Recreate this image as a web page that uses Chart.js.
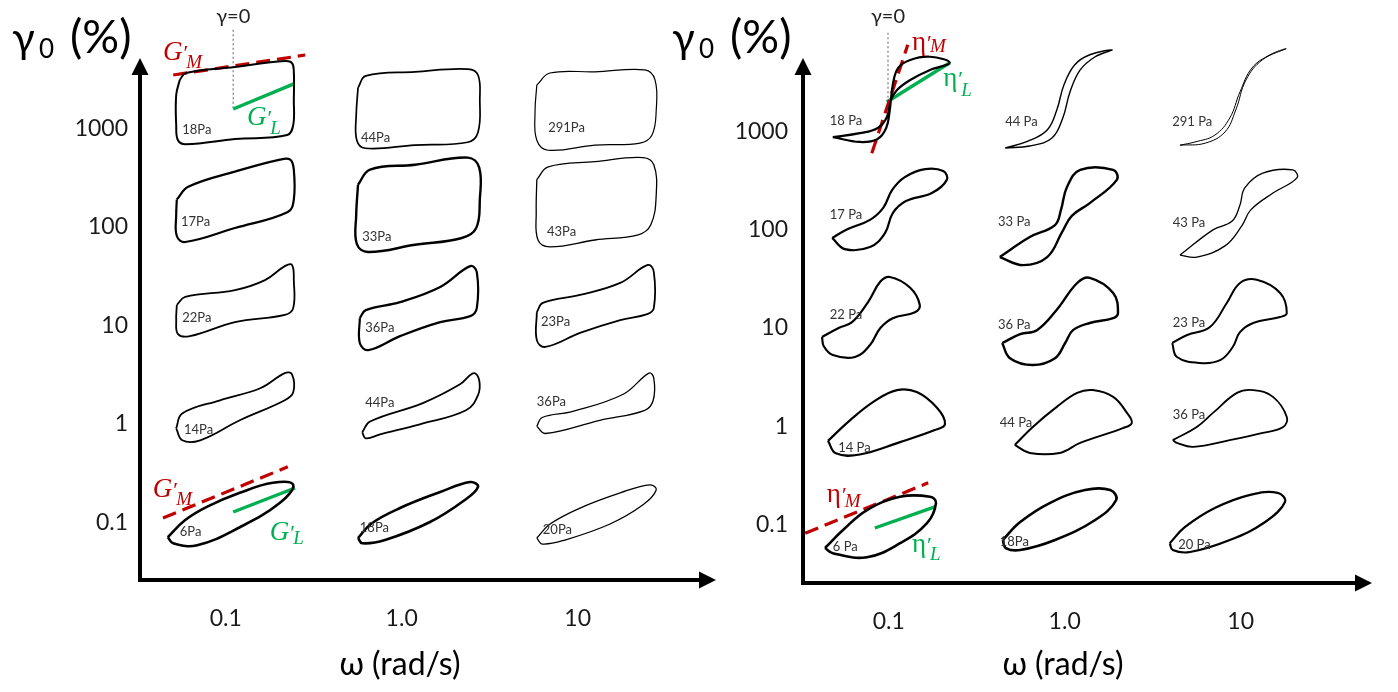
<!DOCTYPE html>
<html>
<head>
<meta charset="utf-8">
<script src="https://cdn.jsdelivr.net/npm/chart.js@4.4.1/dist/chart.umd.min.js"></script>
<style>
  html, body { margin: 0; padding: 0; background: #fff; }
  #wrap { position: relative; width: 1398px; height: 692px; overflow: hidden; }
  #wrap canvas { position: absolute; left: 0; top: 0; }
</style>
</head>
<body>
<div id="wrap">
  <canvas id="elastic" width="1398" height="692"></canvas>
  <canvas id="viscous" width="1398" height="692"></canvas>
</div>
<script>
// ============================================================
// PIPKIN DATA  (rows: gamma0 = 0.1 .. 1000 %, cols: omega = 0.1 .. 10 rad/s)
// ============================================================
const omegaLabels = ['0.1', '1.0', '10'];
const gammaLabels = ['0.1', '1', '10', '100', '1000'];

const elasticStress = [
  ['6Pa', '18Pa', '20Pa'],
  ['14Pa', '44Pa', '36Pa'],
  ['22Pa', '36Pa', '23Pa'],
  ['17Pa', '33Pa', '43Pa'],
  ['18Pa', '44Pa', '291Pa']
];
const viscousStress = [
  ['6 Pa', '18Pa', '20 Pa'],
  ['14 Pa', '44 Pa', '36 Pa'],
  ['22 Pa', '36 Pa', '23 Pa'],
  ['17 Pa', '33 Pa', '43 Pa'],
  ['18 Pa', '44 Pa', '291 Pa']
];

// elastic Lissajous loops: [strain / strain amplitude, stress / stress amplitude]
const elastic01 = [
  [[-1.12,-0.63],[-0.83,-0.2],[-0.47,0.13],[0.08,0.48],[0.63,0.73],[0.97,0.68],[0.75,0.23],[0.08,-0.38],[-0.63,-0.83],[-1.03,-0.78]],
  [[-0.95,-0.65],[-0.72,-0.28],[-0.25,0.1],[0.42,0.5],[0.92,0.75],[1.05,0.63],[0.83,0.3],[0.25,-0.25],[-0.5,-0.7],[-0.88,-0.78]],
  [[-0.97,-0.65],[-0.75,-0.3],[-0.25,0.1],[0.42,0.48],[0.92,0.68],[1.02,0.55],[0.8,0.18],[0.25,-0.3],[-0.5,-0.7],[-0.88,-0.8]]
];
const elastic1 = [
  [[-0.98,-0.45],[-0.88,-0.08],[-0.25,0.25],[0.42,0.55],[0.83,0.93],[0.95,0.9],[0.97,0.45],[0.83,0.25],[0.08,-0.25],[-0.58,-0.75],[-0.88,-0.75]],
  [[-0.88,-0.55],[-0.75,-0.28],[0.13,0.18],[0.75,0.65],[0.98,0.93],[1.07,0.75],[1.05,0.38],[0.85,0],[0.08,-0.35],[-0.58,-0.6],[-0.82,-0.7]],
  [[-0.97,-0.4],[-0.88,-0.18],[-0.37,-0.03],[0.47,0.4],[0.9,0.93],[0.98,0.8],[0.97,0.25],[0.83,0],[0.08,-0.25],[-0.83,-0.58]]
];
const elastic10 = [
  [[-0.97,0.09],[-0.83,0.29],[0,0.46],[0.5,0.71],[0.83,1.06],[0.95,1.09],[0.98,0.71],[0.97,0.01],[0.83,-0.16],[0,-0.34],[-0.75,-0.69],[-0.95,-0.64],[-0.98,-0.29]],
  [[-0.92,-0.24],[-0.82,-0.04],[-0.25,0.16],[0.42,0.54],[0.92,1.06],[1.03,0.91],[1.03,0.01],[0.92,-0.19],[0.42,-0.34],[-0.25,-0.69],[-0.78,-1.04],[-0.92,-0.86]],
  [[-0.97,-0.09],[-0.87,0.14],[-0.25,0.34],[0.42,0.64],[0.88,1.09],[0.98,0.91],[0.98,0.01],[0.87,-0.14],[0.42,-0.29],[-0.25,-0.61],[-0.83,-0.96],[-0.97,-0.79]]
];
const elastic100 = [
  [[-0.97,0.18],[-0.78,0.5],[0,0.88],[0.75,1.18],[0.92,1.18],[0.98,0.93],[0.98,0.18],[0.88,-0.13],[0,-0.53],[-0.83,-0.88],[-0.97,-0.73],[-0.98,-0.2]],
  [[-0.95,0.55],[-0.75,0.93],[0,1.05],[0.88,1.23],[1.07,0.98],[1.08,0.18],[1.02,-0.53],[0.78,-0.78],[0,-0.95],[-0.78,-1.13],[-0.97,-0.93],[-0.98,-0.2]],
  [[-0.97,0.68],[-0.78,1.0],[0,1.13],[0.8,1.23],[0.98,1.05],[1.02,0.3],[0.93,-0.45],[0.72,-0.7],[0,-0.83],[-0.75,-1.0],[-0.95,-0.83],[-0.98,-0.13]]
];
const elastic1000 = [
  [[-0.92,0.63],[-0.82,0.8],[0,0.95],[0.83,1.1],[0.95,1.05],[0.98,0.83],[0.98,0.13],[0.97,-0.5],[0.87,-0.75],[0,-0.85],[-0.82,-0.98],[-0.95,-0.88],[-0.98,-0.5],[-0.98,0.25]],
  [[-0.95,0.43],[-0.82,0.73],[0,0.83],[0.88,0.9],[1.05,0.75],[1.08,0.13],[1.05,-0.68],[0.88,-0.93],[0,-1.0],[-0.83,-1.08],[-0.97,-0.88],[-0.98,-0.25]],
  [[-0.97,0.5],[-0.75,0.8],[0,0.83],[0.83,0.88],[1.0,0.63],[1.02,-0.13],[0.95,-0.75],[0.75,-0.95],[0,-1.0],[-0.78,-1.13],[-0.97,-0.88],[-1.0,-0.18]]
];

// viscous Lissajous loops: [strain rate / rate amplitude, stress / stress amplitude]
const viscous01 = [
  [[-1.05,-0.65],[-0.75,-0.2],[-0.35,0.3],[0.2,0.63],[0.7,0.63],[0.8,0.48],[0.65,-0.03],[0.2,-0.53],[-0.35,-0.88],[-0.92,-0.78]],
  [[-0.92,-0.45],[-0.63,0],[-0.13,0.48],[0.45,0.8],[0.87,0.8],[0.97,0.55],[0.62,0.05],[-0.05,-0.45],[-0.63,-0.7],[-0.87,-0.65]],
  [[-0.97,-0.53],[-0.72,-0.13],[-0.22,0.35],[0.37,0.68],[0.83,0.73],[0.95,0.5],[0.62,0],[0.03,-0.45],[-0.63,-0.75],[-0.92,-0.7]]
];
const viscous1 = [
  [[-1.0,-0.61],[-0.63,-0.09],[-0.22,0.39],[0.15,0.66],[0.48,0.61],[0.82,0.21],[0.95,-0.19],[0.78,-0.34],[0.2,-0.64],[-0.47,-0.95],[-0.87,-0.92]],
  [[-0.72,-0.71],[-0.42,-0.26],[-0.02,0.24],[0.32,0.59],[0.58,0.66],[0.92,0.49],[1.15,0.09],[1.23,-0.16],[1.08,-0.29],[0.37,-0.66],[0.03,-0.91],[-0.47,-0.91]],
  [[-0.92,-0.59],[-0.52,-0.26],[-0.25,0.09],[0.15,0.59],[0.42,0.66],[0.75,0.49],[0.98,-0.01],[0.92,-0.26],[0.58,-0.41],[0.03,-0.59],[-0.58,-0.76],[-0.85,-0.66]]
];
const viscous10 = [
  [[-1.1,-0.65],[-0.83,-0.43],[-0.6,-0.28],[-0.33,0.23],[-0.13,0.73],[0.03,0.85],[0.37,0.58],[0.53,0.15],[0.45,-0.03],[0.08,-0.18],[-0.13,-0.43],[-0.3,-0.85],[-0.55,-1.15],[-0.92,-1.1],[-1.07,-0.88]],
  [[-0.93,-0.8],[-0.63,-0.58],[-0.35,-0.48],[-0.02,0.03],[0.32,0.7],[0.53,0.83],[0.92,0.45],[1.0,-0.05],[0.92,-0.18],[0.53,-0.3],[0.25,-0.48],[0.12,-0.8],[-0.05,-1.18],[-0.42,-1.35],[-0.8,-1.18]],
  [[-0.93,-0.8],[-0.68,-0.6],[-0.3,-0.4],[-0.02,0.2],[0.2,0.7],[0.48,0.78],[0.87,0.45],[0.98,-0.05],[0.87,-0.15],[0.42,-0.3],[0.2,-0.53],[0.08,-0.9],[-0.13,-1.23],[-0.47,-1.3],[-0.85,-1.15]]
];
const viscous100 = [
  [[-0.93,-0.81],[-0.67,-0.59],[-0.3,-0.36],[-0.08,-0.06],[0.07,0.39],[0.28,0.71],[0.62,0.91],[0.92,0.86],[0.98,0.64],[0.73,0.31],[0.3,0.11],[0.08,-0.19],[-0.05,-0.69],[-0.3,-1.04],[-0.72,-1.09]],
  [[-0.97,-1.29],[-0.47,-0.79],[-0.05,-0.49],[0.05,-0.11],[0.15,0.46],[0.37,0.89],[0.92,0.89],[0.98,0.64],[0.53,0.06],[0.23,-0.26],[0.07,-0.66],[-0.18,-1.29],[-0.58,-1.49]],
  [[-0.8,-1.24],[-0.25,-0.61],[0.07,-0.39],[0.2,0.01],[0.28,0.44],[0.58,0.81],[1.08,0.89],[1.15,0.69],[0.75,0.31],[0.38,-0.11],[0.23,-0.51],[-0.05,-1.01],[-0.52,-1.29]]
];
const viscous1000 = [
  [[-0.92,-0.93],[-0.47,-1.05],[-0.18,-0.98],[-0.03,-0.7],[0.03,-0.25],[0.08,0.38],[0.17,0.8],[0.37,1.0],[0.7,1.08],[1.03,0.93],[0.7,0.75],[0.37,0.5],[0.15,0.25],[0.05,0],[-0.02,-0.43],[-0.17,-0.7],[-0.47,-0.83]],
  [[-0.88,-1.2],[-0.47,-1.15],[-0.1,-0.95],[0.08,-0.45],[0.2,0.2],[0.37,0.75],[0.62,1.08],[0.9,1.25],[0.53,1.13],[0.28,0.88],[0.1,0.38],[-0.02,-0.25],[-0.18,-0.75],[-0.5,-1.03]],
  [[-0.8,-1.13],[-0.38,-1.08],[-0.05,-0.8],[0.13,-0.25],[0.3,0.5],[0.57,1.0],[0.97,1.28],[0.7,1.13],[0.4,0.8],[0.2,0.2],[0.03,-0.45],[-0.22,-0.88],[-0.55,-1.05]]
];

// tangent moduli / viscosities drawn on the corner loops: [cell row, cell col, start, end]
const elasticTangentM = [[4, 0, [-1.03, 0.75], [1.17, 1.25]], [0, 0, [-1.2, -0.15], [0.88, 1.13]]];
const elasticTangentL = [[4, 0, [-0.03, -0.1], [0.98, 0.53]], [0, 0, [-0.03, 0], [1.0, 0.6]]];
const viscousTangentM = [[4, 0, [-0.27, -1.33], [0.33, 1.38]], [0, 0, [-1.38, -0.28], [0.67, 0.98]]];
const viscousTangentL = [[4, 0, [-0.02, -0.05], [1.03, 0.93]], [0, 0, [-0.22, -0.15], [0.78, 0.38]]];
const elasticZeroLine = [[-0.03, 1.88], [-0.03, -0.08]];
const viscousZeroLine = [[0, 1.68], [0, 0]];

// ============================================================
// LAYOUT & STYLE
// ============================================================
const RED = '#c00000', GREEN = '#00b050';
const SANS = 'Lato, "Open Sans", sans-serif';
const SERIF = '"Liberation Serif", "DejaVu Serif", serif';

const elasticTagAt = [
  [[-0.92,-0.5],[-0.92,-0.4],[-0.87,-0.45]],
  [[-0.85,-0.5],[-0.83,0.18],[-0.97,0.2]],
  [[-0.88,-0.24],[-0.83,-0.49],[-0.9,-0.34]],
  [[-0.9,-0.38],[-0.88,-0.75],[-0.8,-0.63]],
  [[-0.88,-0.63],[-0.9,-0.83],[-0.78,-0.58]]
];
const viscousTagAt = [
  [[-0.92,-0.63],[-0.97,-0.5],[-0.83,-0.58]],
  [[-0.83,-0.78],[-0.97,-0.16],[-0.92,0.04]],
  [[-0.97,-0.1],[-1.0,-0.35],[-0.92,-0.3]],
  [[-0.97,-0.24],[-1.0,-0.41],[-0.92,-0.44]],
  [[-0.97,-0.53],[-0.88,-0.55],[-0.93,-0.55]]
];
const elasticWidth = [[2.6,2.6,1.3],[1.8,1.8,1.3],[1.8,2.2,1.8],[2.2,2.4,1.3],[2.0,1.7,1.2]];
const viscousWidth = [[2.6,2.6,2.2],[2.2,2.0,1.8],[2.2,2.4,2.0],[2.2,2.4,1.3],[2.2,1.4,1.0]];

const elasticSymbols = [
  { r: 4, c: 0, at: [-1.2, 1.125], base: 'G', sub: 'M', drop: 8, color: RED, italic: true },
  { r: 4, c: 0, at: [0.2, -0.5], base: 'G', sub: 'L', drop: 9, color: GREEN, italic: true },
  { r: 0, c: 0, at: [-1.37, 0.375], base: 'G', sub: 'M', drop: 8, color: RED, italic: true },
  { r: 0, c: 0, at: [0.58, -0.7], base: 'G', sub: 'L', drop: 4, color: GREEN, italic: true }
];
const viscousSymbols = [
  { r: 4, c: 0, at: [0.4, 1.25], base: 'η', sub: 'M', drop: 2, color: RED, italic: false },
  { r: 4, c: 0, at: [0.92, 0.35], base: 'η', sub: 'L', drop: 10, color: GREEN, italic: false },
  { r: 0, c: 0, at: [-1.02, 0.5], base: 'η', sub: 'M', drop: 5, color: RED, italic: false },
  { r: 0, c: 0, at: [0.4, -0.75], base: 'η', sub: 'L', drop: 8, color: GREEN, italic: false }
];

// ============================================================
// HELPERS
// ============================================================
function loopSets(rows, widths, sx, sy) {
  const sets = [];
  rows.forEach((row, r) => row.forEach((loop, c) => {
    sets.push({
      data: loop.concat([loop[0]]).map(p => ({ x: c + p[0] * sx, y: r + p[1] * sy })),
      showLine: true, borderColor: '#000', borderWidth: widths[r][c], tension: 0.4,
      pointRadius: 0, clip: false, borderJoinStyle: 'round'
    });
  }));
  return sets;
}

function tangentSets(list, color, dash, sx, sy) {
  return list.map(([r, c, a, b]) => ({
    data: [a, b].map(p => ({ x: c + p[0] * sx, y: r + p[1] * sy })),
    showLine: true, borderColor: color, borderWidth: dash.length ? 3.2 : 3.4, borderDash: dash,
    tension: 0, pointRadius: 0, clip: false
  }));
}

function zeroSet(line, sx, sy) {
  return {
    data: line.map(p => ({ x: p[0] * sx, y: 4 + p[1] * sy })),
    showLine: true, borderColor: '#8c8c8c', borderWidth: 1.4, borderDash: [2, 2.5],
    tension: 0, pointRadius: 0, clip: false
  };
}

const axesPlugin = (tipX, tipY) => ({
  id: 'pipkinAxes',
  afterDraw(chart) {
    const { ctx, chartArea: a } = chart;
    ctx.save();
    ctx.strokeStyle = '#000'; ctx.fillStyle = '#000'; ctx.lineWidth = 4;
    ctx.beginPath();
    ctx.moveTo(a.left, a.bottom + 2); ctx.lineTo(a.left, tipY + 12);
    ctx.moveTo(a.left - 2, a.bottom); ctx.lineTo(tipX - 12, a.bottom);
    ctx.stroke();
    ctx.beginPath();
    ctx.moveTo(a.left, tipY); ctx.lineTo(a.left - 8.5, tipY + 17); ctx.lineTo(a.left + 8.5, tipY + 17); ctx.closePath();
    ctx.moveTo(tipX, a.bottom); ctx.lineTo(tipX - 17, a.bottom - 8.5); ctx.lineTo(tipX - 17, a.bottom + 8.5); ctx.closePath();
    ctx.fill();
    ctx.restore();
  }
});

const textPlugin = spec => ({
  id: 'pipkinText',
  afterDatasetsDraw(chart) {
    const { ctx, chartArea: a } = chart;
    const xs = chart.scales.x, ys = chart.scales.y;
    const px = (r, c, p) => [xs.getPixelForValue(c + p[0] * spec.sx), ys.getPixelForValue(r + p[1] * spec.sy)];
    ctx.save();

    ctx.font = '13px ' + SANS; ctx.fillStyle = '#333';
    ctx.textAlign = 'left'; ctx.textBaseline = 'middle';
    spec.stress.forEach((row, r) => row.forEach((t, c) => {
      const [x, y] = px(r, c, spec.tagAt[r][c]);
      ctx.fillText(t, x, y);
    }));

    ctx.font = '20px ' + SANS; ctx.fillStyle = '#222'; ctx.textAlign = 'center';
    const [zx, zy] = px(4, 0, spec.zeroTag);
    ctx.fillText('γ=0', zx, zy);

    ctx.textAlign = 'left'; ctx.textBaseline = 'alphabetic';
    spec.symbols.forEach(s => {
      const [x, y] = px(s.r, s.c, s.at);
      ctx.fillStyle = s.color;
      ctx.font = (s.italic ? 'italic ' : '') + '27px ' + SERIF;
      ctx.fillText(s.base, x, y);
      const w = ctx.measureText(s.base).width;
      ctx.font = '22px ' + SERIF;
      ctx.fillText('′', x + w + 1, y);
      const pw = ctx.measureText('′').width;
      ctx.font = 'italic 19px ' + SERIF;
      ctx.fillText(s.sub, x + w + pw * 0.8, y + s.drop);
    });

    // horizontal y-axis title
    const tx = a.left + spec.titleDx, ty = 53;
    ctx.fillStyle = '#000';
    ctx.font = '42px ' + SANS; ctx.fillText('γ', tx, ty);
    ctx.font = '26px ' + SANS; ctx.fillText('0', tx + 27, ty + 5);
    ctx.font = '46px ' + SANS; ctx.fillText('(%)', tx + 58, ty);
    ctx.restore();
  }
});

function pipkin(id, cfg) {
  const tickFont = { family: SANS, size: 23 };
  return new Chart(document.getElementById(id), {
    type: 'scatter',
    data: {
      datasets: [
        ...loopSets(cfg.rows, cfg.widths, cfg.sx, cfg.sy),
        zeroSet(cfg.zero, cfg.sx, cfg.sy),
        ...tangentSets(cfg.tanM, RED, [14, 7], cfg.sx, cfg.sy),
        ...tangentSets(cfg.tanL, GREEN, [], cfg.sx, cfg.sy)
      ]
    },
    options: {
      responsive: false, animation: false, devicePixelRatio: 1, events: [],
      layout: { padding: cfg.pad },
      plugins: { legend: { display: false }, tooltip: { enabled: false } },
      scales: {
        x: { type: 'linear', display: false, min: cfg.x[0], max: cfg.x[1] },
        y: { type: 'linear', display: false, min: cfg.y[0], max: cfg.y[1] },
        xt: {
          type: 'linear', axis: 'x', position: 'bottom', min: -0.487, max: 2.468,
          grid: { display: false, drawTicks: false }, border: { display: false },
          afterBuildTicks: s => { s.ticks = omegaLabels.map((_, i) => ({ value: i })); },
          afterFit: s => { s.height = cfg.xtHeight; },
          ticks: { callback: v => omegaLabels[v], font: tickFont, color: '#1a1a1a', padding: 25, maxRotation: 0 },
          title: { display: true, text: 'ω (rad/s)', font: { family: SANS, size: 32 }, color: '#000', padding: { top: 0, bottom: 8 } }
        },
        yt: {
          type: 'linear', axis: 'y', position: 'left', min: cfg.yt[0], max: cfg.yt[1],
          grid: { display: false, drawTicks: false }, border: { display: false },
          afterBuildTicks: s => { s.ticks = gammaLabels.map((_, i) => ({ value: i })); },
          afterFit: s => { s.width = 140; },
          ticks: { callback: v => gammaLabels[v], font: tickFont, color: '#1a1a1a', padding: cfg.ytPad }
        }
      }
    },
    plugins: [
      textPlugin({ sx: cfg.sx, sy: cfg.sy, stress: cfg.stress, tagAt: cfg.tagAt, zeroTag: cfg.zeroTag, symbols: cfg.symbols, titleDx: cfg.titleDx }),
      axesPlugin(cfg.tip[0], cfg.tip[1])
    ]
  });
}

// elastic (stress vs strain) on the left, viscous (stress vs strain rate) on the right
pipkin('elastic', {
  rows: [elastic01, elastic1, elastic10, elastic100, elastic1000],
  stress: elasticStress, tagAt: elasticTagAt, widths: elasticWidth,
  tanM: elasticTangentM, tanL: elasticTangentL, zero: elasticZeroLine, zeroTag: [-0.03, 2.2],
  symbols: elasticSymbols,
  sx: 60 / 180, sy: 40 / 101.75,
  pad: { left: 0, top: 68, right: 738, bottom: 0 },
  x: [-0.5278, 2.361], y: [-0.668, 4.364], yt: [-0.582, 4.611],
  xtHeight: 112, ytPad: 12, titleDx: -128, tip: [716, 58]
});

pipkin('viscous', {
  rows: [viscous01, viscous1, viscous10, viscous100, viscous1000],
  stress: viscousStress, tagAt: viscousTagAt, widths: viscousWidth,
  tanM: viscousTangentM, tanL: viscousTangentL, zero: viscousZeroLine, zeroTag: [0, 2.08],
  symbols: viscousSymbols,
  sx: 60 / 170, sy: 40 / 105.5,
  pad: { left: 663, top: 70, right: 75, bottom: 0 },
  x: [-0.5, 2.559], y: [-0.578, 4.284], yt: [-0.591, 4.622],
  xtHeight: 109, ytPad: 15, titleDx: -131, tip: [1372, 58]
});
</script>
</body>
</html>
